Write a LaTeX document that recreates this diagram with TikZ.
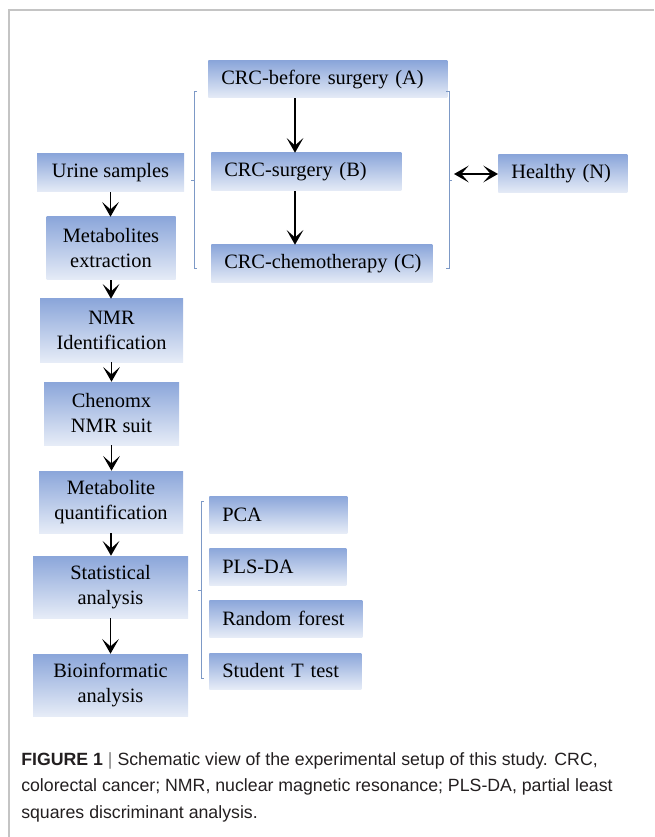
\documentclass[tikz,border=0pt]{standalone}
\usepackage{fontspec}
\setmainfont{Liberation Serif}
\newfontfamily\capfont{Liberation Sans}
\usetikzlibrary{arrows.meta,positioning}
\definecolor{boxtop}{HTML}{8BA6DA}
\definecolor{boxbottom}{HTML}{E6ECF7}
\definecolor{bracketblue}{HTML}{7D99C6}
\definecolor{framegray}{HTML}{C4C4C4}
\definecolor{captiontext}{HTML}{231F20}
\newcommand{\boxfont}{\fontsize{15.3pt}{18.75pt}\selectfont}
\newcommand{\capsize}{\capfont\fontsize{13.3pt}{19.9pt}\selectfont}
\tikzset{
  stepbox/.style={top color=boxtop,bottom color=boxbottom,draw=none,align=center,inner sep=0pt,font=\boxfont},
  groupbox/.style={stepbox,align=left,anchor=west,execute at begin node={\hspace*{9.75pt}}},
  flow/.style={-{Stealth[length=11pt,width=12.5pt,inset=5.5pt]},line width=1.4pt},
  bothflow/.style={{Stealth[length=11pt,width=12.5pt,inset=5.5pt]}-{Stealth[length=11pt,width=12.5pt,inset=5.5pt]},line width=1.4pt},
  bracketline/.style={draw=bracketblue,line width=.7pt},
  caption/.style={font=\capsize,align=left,inner sep=0pt,text=captiontext,anchor=north west},
}

\begin{document}
\begin{tikzpicture}[x=.75pt,y=-.75pt]
  \useasboundingbox (0,0) rectangle (654,837);
  \draw[framegray,line width=1.1pt] (654,10) -- (9,10) -- (9,837);

  % pipeline
  \node[stepbox,minimum width=110.25pt,minimum height=28.5pt] (urine) at (110.5,173) {Urine samples};
  \node[stepbox,minimum width=96.75pt,minimum height=47.25pt] (extract) at (111,248.5) {Metabolites\\extraction};
  \node[stepbox,minimum width=107.25pt,minimum height=47.25pt] (nmr) at (111.5,330.5) {NMR\\Identification};
  \node[stepbox,minimum width=101.25pt,minimum height=47.25pt] (chenomx) at (111.5,413.5) {Chenomx\\NMR suit};
  \node[stepbox,minimum width=108pt,minimum height=46.5pt] (quant) at (111,502) {Metabolite\\quantification};
  \node[stepbox,minimum width=116.25pt,minimum height=46.5pt] (stats) at (110.5,587) {Statistical\\analysis};
  \node[stepbox,minimum width=116.25pt,minimum height=46.5pt] (bioinf) at (110.5,685) {Bioinformatic\\analysis};
  \foreach \a/\b in {urine/extract,extract/nmr,nmr/chenomx,chenomx/quant,quant/stats,stats/bioinf}
    \draw[flow] (\a.south) -- (\a.south |- \b.north);

  % groups
  \node[groupbox,text width=179.25pt,minimum height=27.75pt] (before) at (208,79.5) {CRC-before surgery (A)};
  \node[groupbox,text width=142.5pt,minimum height=28.5pt] (surgery) at (211,172) {CRC-surgery (B)};
  \node[groupbox,text width=165.75pt,minimum height=28.5pt] (chemo) at (211,264) {CRC-chemotherapy (C)};
  \node[groupbox,text width=96.75pt,minimum height=28.5pt] (healthy) at (498,174) {Healthy (N)};
  \coordinate (axis) at (295,0);
  \draw[flow] (before.south -| axis) -- (surgery.north -| axis);
  \draw[flow] (surgery.south -| axis) -- (chemo.north -| axis);

  \draw[bracketline] (197,91) -- (194,91) -- (194,268) -- (197,268);
  \draw[bracketline] (194,180) -- (191,180);
  \draw[bracketline] (446,91) -- (449,91) -- (449,268) -- (446,268);
  \draw[bracketline] (449,180) -- (452,180);
  \coordinate (pair) at (454,174);
  \draw[bothflow] (pair) -- (healthy.west);

  % methods
  \node[groupbox,text width=103.5pt,minimum height=27.75pt] (pca) at (209,514.5) {PCA};
  \node[groupbox,text width=102.75pt,minimum height=27.75pt] (plsda) at (209,566.5) {PLS-DA};
  \node[groupbox,text width=114.75pt,minimum height=27.75pt] (forest) at (209,618.5) {Random forest};
  \node[groupbox,text width=114pt,minimum height=27pt] (ttest) at (209,671) {Student T test};
  \draw[bracketline] (204,501) -- (201,501) -- (201,678) -- (204,678);
  \draw[bracketline] (201,590) -- (198,590);

  \node[caption] (legend) at (21,752) {\textbf{FIGURE 1} {\color{gray}|} Schematic view of the experimental setup of this study. CRC,\\colorectal cancer; NMR, nuclear magnetic resonance; PLS-DA, partial least\\squares discriminant analysis.};
\end{tikzpicture}
\end{document}
